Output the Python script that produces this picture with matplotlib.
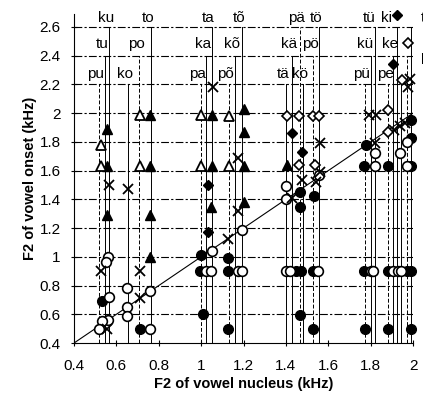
import matplotlib
matplotlib.use('Agg')
import matplotlib.pyplot as plt

plt.rcParams['font.family'] = ['Liberation Sans', 'DejaVu Sans']

# syllables, F2 of the vowel nucleus (kHz) and the label row (1 = top)
syllables = ['pu', 'tu', 'ku', 'ko', 'po', 'to', 'pa', 'ka', 'ta',
             'põ', 'kõ', 'tõ', 'tä', 'kä', 'pä', 'kö', 'pö', 'tö',
             'pü', 'kü', 'tü', 'pe', 'ke', 'ki', 'te', 'pi', 'ti']
nucleus = [0.518, 0.546, 0.565, 0.655, 0.709, 0.763, 0.999, 1.025, 1.05,
           1.13, 1.16, 1.195, 1.40, 1.43, 1.466, 1.48, 1.53, 1.556,
           1.773, 1.80, 1.82, 1.883, 1.905, 1.925, 1.945, 1.97, 1.99]
label_row = [3, 2, 1, 3, 2, 1, 3, 2, 1,
             3, 2, 1, 3, 2, 1, 3, 2, 1,
             3, 2, 1, 3, 2, 1, 3, 2, 1]
shown = [True] * 24 + [False] * 3
edge_labels = ['ti', 'pi']
edge_label_y = [2.665, 2.39]

# F2 of vowel onset, by marker type
fc_x = [0.53, 0.71, 1.0, 0.995, 1.01, 1.128, 1.128, 1.128, 1.465, 1.465, 1.535,
        1.45, 1.47, 1.53, 1.466, 1.53, 1.77, 1.88, 1.97, 1.99,
        1.775, 1.883, 1.99, 1.78, 1.77, 1.88, 1.99, 1.99, 1.99]
fc_y = [0.69, 0.50, 1.01, 0.90, 0.60, 0.99, 0.90, 0.50, 1.45, 1.35, 1.42,
        0.90, 0.90, 0.90, 0.595, 0.495, 0.90, 0.90, 0.90, 0.90,
        0.495, 0.495, 0.495, 1.78, 1.63, 1.63, 1.63, 1.83, 1.95]

oc_x = [0.562, 0.55, 0.565, 0.562, 0.53, 0.52, 0.65, 0.65, 0.65, 0.758, 0.758,
        1.05, 1.025, 1.045, 1.175, 1.195, 1.195, 1.40, 1.40, 1.555,
        1.40, 1.42, 1.55, 1.80, 1.81, 1.905, 1.93, 1.945,
        1.82, 1.82, 1.97, 1.94, 1.97]
oc_y = [1.0, 0.967, 0.72, 0.56, 0.55, 0.50, 0.78, 0.65, 0.59, 0.76, 0.50,
        1.04, 0.90, 0.90, 0.90, 0.90, 1.19, 1.49, 1.40, 1.57,
        0.90, 0.90, 0.90, 0.90, 0.90, 0.90, 0.90, 0.90,
        1.72, 1.63, 1.63, 1.72, 1.80]

x_x = [0.526, 0.71, 0.71, 0.565, 0.653, 0.555, 1.128, 1.175, 1.175, 1.054,
       1.43, 1.477, 1.54, 1.56, 1.56, 1.79, 1.825, 1.82, 1.91, 1.94, 1.96,
       1.985, 1.977]
x_y = [0.90, 0.90, 0.71, 1.50, 1.47, 0.50, 1.125, 1.32, 1.69, 2.18,
       1.41, 1.535, 1.52, 1.59, 1.79, 1.99, 1.99, 1.79, 1.88, 1.91, 1.93,
       2.24, 2.18]

ft_x = [0.554, 0.554, 0.554, 0.76, 0.76, 0.76, 0.758, 1.05, 1.05, 1.045,
        1.2, 1.2, 1.2, 1.2, 1.405]
ft_y = [1.89, 1.63, 1.29, 1.99, 1.63, 1.29, 1.0, 1.99, 1.63, 1.35,
        2.03, 1.87, 1.63, 1.38, 1.64]

ot_x = [0.527, 0.526, 0.71, 0.71, 1.0, 1.0, 1.13, 1.13]
ot_y = [1.78, 1.63, 1.99, 1.63, 1.99, 1.63, 1.98, 1.63]

fd_x = [1.03, 1.03, 1.43, 1.478, 1.925, 1.906]
fd_y = [1.50, 1.175, 1.865, 1.73, 2.685, 2.34]

od_x = [1.406, 1.463, 1.526, 1.557, 1.463, 1.537, 1.883, 1.883, 1.977, 1.946]
od_y = [1.98, 1.98, 1.98, 1.98, 1.64, 1.64, 2.02, 1.87, 2.49, 2.23]

yticks = [0.4, 0.6, 0.8, 1.0, 1.2, 1.4, 1.6, 1.8, 2.0, 2.2, 2.4, 2.6]
ytick_labels = ['0.4', '0.6', '0.8', '1', '1.2', '1.4', '1.6', '1.8', '2', '2.2', '2.4', '2.6']
xticks = [0.4, 0.6, 0.8, 1.0, 1.2, 1.4, 1.6, 1.8, 2.0]
xtick_labels = ['0.4', '0.6', '0.8', '1', '1.2', '1.4', '1.6', '1.8', '2']

row_text_y = {1: 2.665, 2: 2.48, 3: 2.275}
row_top = {1: 2.6, 2: 2.4, 3: 2.2}
label_nudge = {'ki': -0.035, 'tü': -0.01, 'kü': -0.01}

fig = plt.figure(figsize=(4.23, 3.94), dpi=100)
ax = fig.add_axes([0.175, 0.1294, 0.8014, 0.835])
ax.set_xlim(0.4, 2.0)
ax.set_ylim(0.4, 2.69)

# dash-dot grid lines
for yv in yticks[1:]:
    ax.plot([0.4, 2.0], [yv, yv], color='black', lw=0.8,
            dashes=(7, 2, 2, 2), zorder=1)

# vertical lines from each nucleus up to its label row
for syl, xv, row, show in zip(syllables, nucleus, label_row, shown):
    if syl[0] == 'p':
        ls = dict(dashes=(4, 2))
    else:
        ls = dict(linestyle='-')
    ax.plot([xv, xv], [0.4, row_top[row]], color='black', lw=0.7, zorder=1, **ls)
    if show:
        ax.text(xv - 0.015 + label_nudge.get(syl, 0), row_text_y[row], syl,
                ha='center', va='center', fontsize=11, zorder=3)

# labels cut by the right edge of the picture
for lab, yv in zip(edge_labels, edge_label_y):
    ax.text(2.035, yv, lab, ha='left', va='center', fontsize=11, clip_on=False)

# diagonal y = x
ax.plot([0.4, 2.0], [0.4, 2.0], color='black', lw=0.8, zorder=2)

ms = 7
kw = dict(linestyle='none', color='black', zorder=4, clip_on=False)
ax.plot(fc_x, fc_y, marker='o', markersize=ms, markerfacecolor='black', **kw)
ax.plot(oc_x, oc_y, marker='o', markersize=ms, markerfacecolor='white', markeredgewidth=1.2, **kw)
ax.plot(x_x, x_y, marker='x', markersize=ms, markeredgewidth=1.3, **kw)
ax.plot(ft_x, ft_y, marker='^', markersize=ms, markerfacecolor='black', **kw)
ax.plot(ot_x, ot_y, marker='^', markersize=ms, markerfacecolor='white', markeredgewidth=1.3, **kw)
ax.plot(fd_x, fd_y, marker='D', markersize=5.5, markerfacecolor='black', **kw)
ax.plot(od_x, od_y, marker='D', markersize=5.5, markerfacecolor='white', markeredgewidth=1.2, **kw)

ax.spines['top'].set_visible(False)
ax.spines['right'].set_visible(False)
ax.spines['left'].set_linewidth(0.8)
ax.spines['bottom'].set_linewidth(0.8)

ax.set_yticks(yticks)
ax.set_yticklabels(ytick_labels)
ax.set_xticks(xticks)
ax.set_xticklabels(xtick_labels)
ax.tick_params(direction='inout', length=5, width=0.8, labelsize=11)
ax.tick_params(axis='x', pad=9)
ax.tick_params(axis='y', pad=7)

ax.set_xlabel('F2 of vowel nucleus (kHz)', fontsize=10.5, fontweight='bold', labelpad=3)
ax.set_ylabel('F2 of vowel onset (kHz)', fontsize=10.5, fontweight='bold', labelpad=2)

fig.savefig('out.png', dpi=100)
